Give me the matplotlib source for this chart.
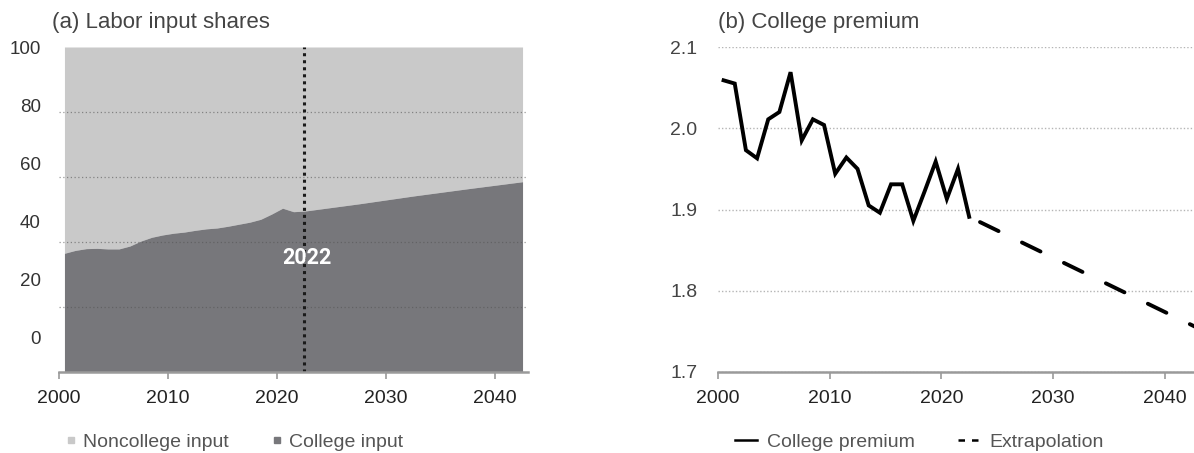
import numpy as np
import matplotlib
matplotlib.use("Agg")
import matplotlib.pyplot as plt
from matplotlib.lines import Line2D

plt.rcParams["font.family"] = ["Liberation Sans", "DejaVu Sans"]

# --------------------------------------------------------------
# Data
# --------------------------------------------------------------

# (a) college share of labor input, mid-year points, history + projection
share_years = [2000.5, 2001.5, 2002.5, 2003.5, 2004.5, 2005.5, 2006.5, 2007.5,
               2008.5, 2009.5, 2010.5, 2011.5, 2012.5, 2013.5, 2014.5, 2015.5,
               2016.5, 2017.5, 2018.5, 2019.5, 2020.5, 2021.5, 2022.5,
               2027.5, 2032.5, 2037.5, 2042.5]
college_share = [29.1, 30.1, 30.7, 30.8, 30.6, 30.6, 31.6, 33.3,
                 34.6, 35.4, 36.0, 36.4, 37.0, 37.5, 37.8, 38.4,
                 39.1, 39.8, 40.8, 42.6, 44.6, 43.4, 43.6,
                 46.1, 48.8, 51.3, 53.7]
total_share = 100
cutoff_year = 2022.5

# (b) college premium
premium_years = [2000.5, 2001.5, 2002.5, 2003.5, 2004.5, 2005.5, 2006.5, 2007.5,
                 2008.5, 2009.5, 2010.5, 2011.5, 2012.5, 2013.5, 2014.5, 2015.5,
                 2016.5, 2017.5, 2018.5, 2019.5, 2020.5, 2021.5, 2022.5]
premium = [2.059, 2.055, 1.973, 1.963, 2.011, 2.020, 2.069, 1.985,
           2.011, 2.004, 1.944, 1.964, 1.950, 1.905, 1.896, 1.931,
           1.931, 1.886, 1.922, 1.959, 1.913, 1.950, 1.891]
extrap_years = [2022.5, 2043.0]
extrap = [1.891, 1.754]

x_ticks = [2000, 2010, 2020, 2030, 2040]

# --------------------------------------------------------------
# Figure
# --------------------------------------------------------------

W, H = 1194, 453
fig = plt.figure(figsize=(W / 100, H / 100), dpi=100)
ax1 = fig.add_axes([59 / W, 1 - 372 / H, 469 / W, 325 / H])
ax2 = fig.add_axes([718 / W, 1 - 372 / H, 480 / W, 325 / H])

light = "#c9c9c9"
dark = "#77777b"
axis_grey = "#9a9a9a"

# --- (a) Labor input shares ---
ax1.fill_between(share_years, college_share, total_share, color=light, lw=0, zorder=1)
ax1.fill_between(share_years, -11.7, college_share, color=dark, lw=0, zorder=1)
ax1.set_xlim(2000, 2043)
ax1.set_ylim(-11.7, 100)
ax1.set_yticks([0, 20, 40, 60, 80, 100])
ax1.set_yticks(np.linspace(-11.7, 100, 6)[1:], minor=True)
ax1.grid(which="minor", axis="y", color="#555555", ls=(0, (1, 2)), lw=0.9, alpha=0.6, zorder=2)
ax1.tick_params(axis="y", which="both", length=0, pad=13, labelsize=13.5, labelcolor="#333333")
ax1.axvline(cutoff_year, color="#1a1a1a", ls=(0, (1, 1.3)), lw=2.2, zorder=3)
ax1.text(cutoff_year + 0.2, 27.5, "2022", color="white", fontsize=15.5, fontweight="bold",
         family=["Roboto", "DejaVu Sans"], ha="center", va="center", zorder=4)
ax1.set_title("(a) Labor input shares", loc="left", x=-0.015, fontsize=16,
              color="#444444", pad=14)

# --- (b) College premium ---
ax2.plot(premium_years, premium, color="black", lw=2.8, solid_joinstyle="miter", zorder=3)
ax2.plot(extrap_years, extrap, color="black", lw=2.8, ls=(8.9, (5.3, 6.7)),
         dash_capstyle="round", zorder=3)
ax2.set_xlim(2000, 2043)
ax2.set_ylim(1.7, 2.1)
ax2.set_yticks([1.7, 1.8, 1.9, 2.0, 2.1])
ax2.set_yticklabels(["1.7", "1.8", "1.9", "2.0", "2.1"])
ax2.grid(axis="y", color="#b5b5b5", ls=(0, (1, 1.5)), lw=1.0)
ax2.tick_params(axis="y", length=0, pad=15, labelsize=14, labelcolor="#444444")
ax2.set_title("(b) College premium", loc="left", x=0.0, fontsize=16,
              color="#444444", pad=14)

for ax in (ax1, ax2):
    for side in ("top", "right", "left"):
        ax.spines[side].set_visible(False)
    ax.spines["bottom"].set_color(axis_grey)
    ax.spines["bottom"].set_linewidth(1.8)
    ax.spines["bottom"].set_zorder(5)
    ax.set_xticks(x_ticks)
    ax.tick_params(axis="x", length=5, width=1.2, color=axis_grey, pad=8,
                   labelsize=14, labelcolor="#222222")

# --------------------------------------------------------------
# Legends
# --------------------------------------------------------------

h_left = [Line2D([], [], ls="none", marker="s", ms=3.8, color=light),
          Line2D([], [], ls="none", marker="s", ms=3.8, color=dark)]
fig.legend(h_left, ["Noncollege input", "College input"], loc="center left",
           bbox_to_anchor=(63 / W, 1 - 442 / H), ncol=2, frameon=False,
           fontsize=14, labelcolor="#555555", handlelength=0.8, handletextpad=0.25,
           columnspacing=2.05, borderpad=0, borderaxespad=0)

h_right = [Line2D([], [], color="black", lw=1.8),
           Line2D([], [], color="black", lw=1.8, ls=(0, (2.6, 2.8)))]
fig.legend(h_right, ["College premium", "Extrapolation"], loc="center left",
           bbox_to_anchor=(735 / W, 1 - 442 / H), ncol=2, frameon=False,
           fontsize=14, labelcolor="#555555", handlelength=1.15, handletextpad=0.5,
           columnspacing=2.2, borderpad=0, borderaxespad=0)

fig.savefig("out.png", dpi=100)
